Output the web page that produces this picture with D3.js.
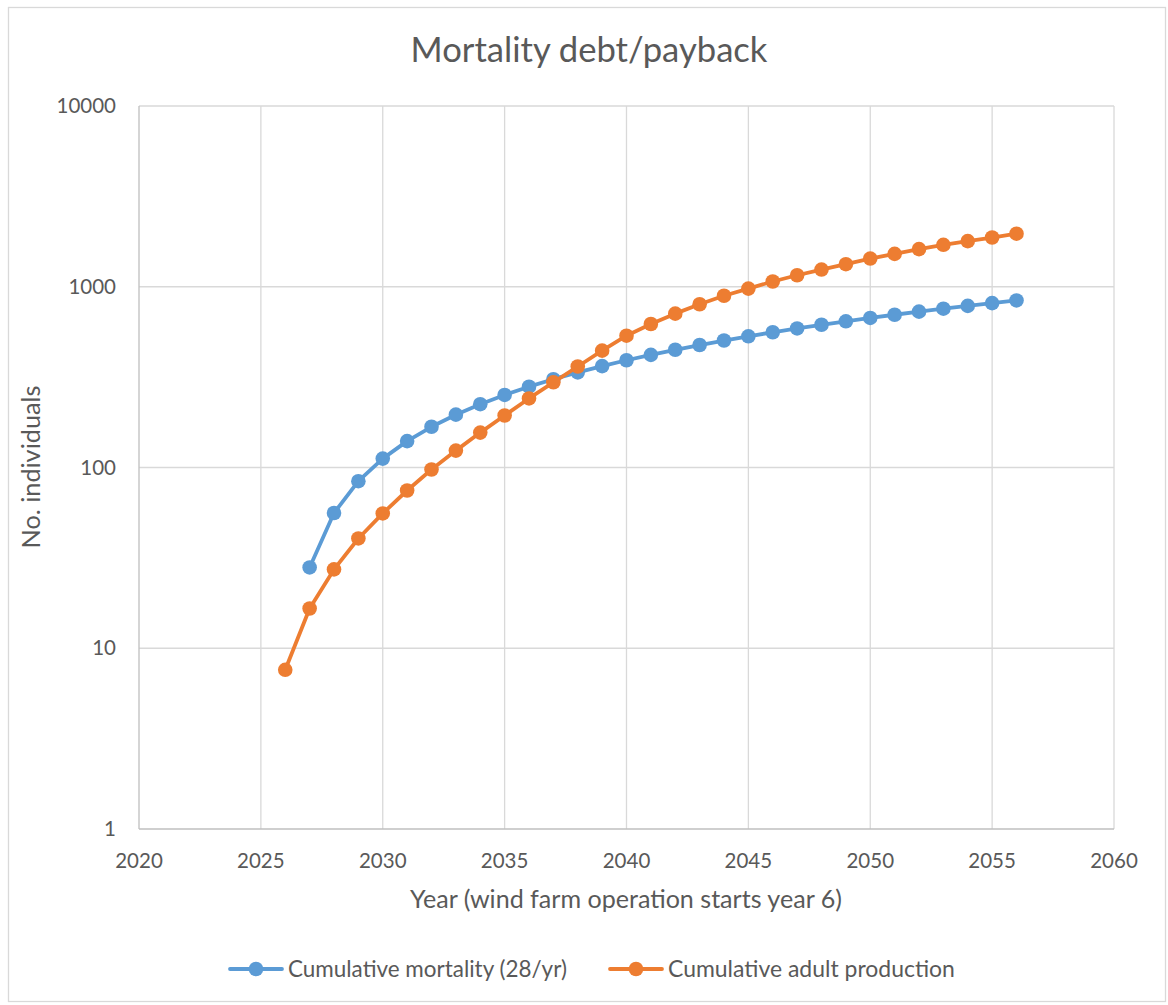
<!DOCTYPE html>
<html>
<head>
<meta charset="utf-8">
<script src="https://cdn.jsdelivr.net/npm/d3@7"></script>
<style>
  html, body { margin: 0; padding: 0; background: #fff; }
  svg { display: block; }
  text { font-family: Lato, "Open Sans", sans-serif; fill: #595959; }
</style>
</head>
<body>
<svg id="chart" width="1168" height="1005"></svg>
<script>
// ---- data ----
const mortalityYears = d3.range(2027, 2057);
const mortalityValues = [28, 56, 84, 112, 140, 168, 196, 224, 252, 280,
  308, 336, 364, 392, 420, 448, 476, 504, 532, 560,
  588, 616, 644, 672, 700, 728, 756, 784, 812, 840];
const productionYears = d3.range(2026, 2057);
const productionValues = [7.6, 16.6, 27.3, 40.5, 55.7, 74.6, 97.5, 124, 156, 194,
  241, 296, 362, 443, 536, 622, 710, 800, 892, 977,
  1069, 1158, 1245, 1333, 1432, 1520, 1614, 1706, 1788, 1872, 1966];
const xTicks = [2020, 2025, 2030, 2035, 2040, 2045, 2050, 2055, 2060];
const yTicks = [1, 10, 100, 1000, 10000];
const seriesNames = ["Cumulative mortality (28/yr)", "Cumulative adult production"];
const seriesColors = ["#5B9BD5", "#ED7D31"];
const titleText = "Mortality debt/payback";
const xTitle = "Year (wind farm operation starts year 6)";
const yTitle = "No. individuals";

const series = [
  { name: seriesNames[0], color: seriesColors[0], pts: mortalityYears.map((y, i) => [y, mortalityValues[i]]) },
  { name: seriesNames[1], color: seriesColors[1], pts: productionYears.map((y, i) => [y, productionValues[i]]) }
];

const svg = d3.select("#chart");
const L = 139, R = 1114, T = 106, B = 829;

// outer border
svg.append("rect").attr("x", 8.5).attr("y", 7.5).attr("width", 1157).attr("height", 994)
  .attr("fill", "#fff").attr("stroke", "#D9D9D9").attr("stroke-width", 1.3);

const x = d3.scaleLinear().domain([2020, 2060]).range([L, R]);
const y = d3.scaleLog().domain([1, 10000]).range([B, T]);

function fit(sel, target) {
  const base = parseFloat(sel.attr("font-size"));
  const w = sel.node().getComputedTextLength();
  sel.attr("font-size", base * target / w);
}

// gridlines
const g = svg.append("g");
g.selectAll(".hg").data(yTicks.slice(1)).join("line")
  .attr("x1", L).attr("x2", R).attr("y1", d => y(d)).attr("y2", d => y(d))
  .attr("stroke", "#D9D9D9").attr("stroke-width", 1.3);
g.selectAll(".vg").data(xTicks.slice(1)).join("line")
  .attr("y1", T).attr("y2", B).attr("x1", d => x(d)).attr("x2", d => x(d))
  .attr("stroke", "#D9D9D9").attr("stroke-width", 1.3);
// axis lines
g.append("line").attr("x1", L).attr("x2", L).attr("y1", T).attr("y2", B)
  .attr("stroke", "#BFBFBF").attr("stroke-width", 1.3);
g.append("line").attr("x1", L).attr("x2", R).attr("y1", B).attr("y2", B)
  .attr("stroke", "#BFBFBF").attr("stroke-width", 1.3);

// y tick labels
g.selectAll(".yl").data(yTicks).join("text")
  .attr("x", 116).attr("y", d => y(d)).attr("dy", "0.35em")
  .attr("text-anchor", "end").attr("font-size", 20.5)
  .text(d => d);
// x tick labels
g.selectAll(".xl").data(xTicks).join("text")
  .attr("x", d => x(d)).attr("y", 868)
  .attr("text-anchor", "middle").attr("font-size", 20.5)
  .text(d => d);

// series
const line = d3.line().x(d => x(d[0])).y(d => y(d[1]));
series.forEach(s => {
  svg.append("path").attr("d", line(s.pts)).attr("fill", "none")
    .attr("stroke", s.color).attr("stroke-width", 3.8).attr("stroke-linejoin", "round").attr("stroke-linecap", "round");
  svg.append("g").selectAll("circle").data(s.pts).join("circle")
    .attr("cx", d => x(d[0])).attr("cy", d => y(d[1])).attr("r", 7.3)
    .attr("fill", s.color);
});

// title
const t = svg.append("text").attr("x", 589).attr("y", 62).attr("text-anchor", "middle")
  .attr("font-size", 32).text(titleText);
fit(t, 357);

// axis titles
const xt = svg.append("text").attr("x", 626).attr("y", 908).attr("text-anchor", "middle")
  .attr("font-size", 21).text(xTitle);
fit(xt, 432);
const yt = svg.append("text").attr("transform", "translate(40,467) rotate(-90)")
  .attr("text-anchor", "middle").attr("font-size", 21).text(yTitle);
fit(yt, 163);

// legend
const legendX = [230, 610];
const legendTextW = [279, 287];
series.forEach((s, i) => {
  const lg = svg.append("g");
  lg.append("line").attr("x1", legendX[i]).attr("x2", legendX[i] + 52)
    .attr("y1", 969).attr("y2", 969).attr("stroke", s.color).attr("stroke-width", 3.8).attr("stroke-linecap", "round");
  lg.append("circle").attr("cx", legendX[i] + 26).attr("cy", 969).attr("r", 7.3).attr("fill", s.color);
  const tx = lg.append("text").attr("x", legendX[i] + 58).attr("y", 969).attr("dy", "0.35em")
    .attr("font-size", 19).text(s.name);
  fit(tx, legendTextW[i]);
});
</script>
</body>
</html>
